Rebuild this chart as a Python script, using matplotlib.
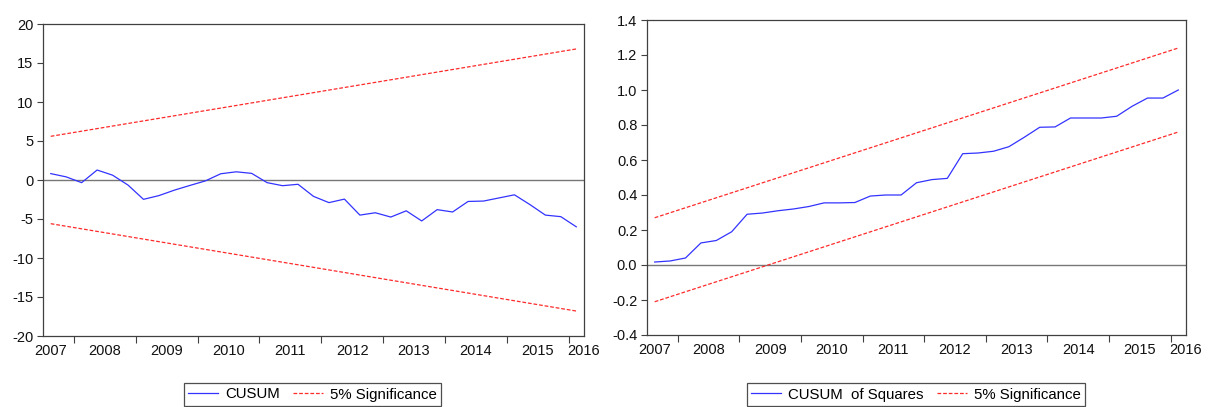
import numpy as np
import matplotlib
matplotlib.use('Agg')
import matplotlib.pyplot as plt

plt.rcParams['font.family'] = ['Liberation Sans', 'DejaVu Sans']
plt.rcParams['axes.unicode_minus'] = False

# quarterly observations 2007Q3 .. 2016Q1
cusum = [0.82, 0.4, -0.34, 1.28, 0.62, -0.65, -2.48, -2.0, -1.3, -0.7,
         -0.12, 0.8, 1.05, 0.85, -0.34, -0.73, -0.55, -2.1, -2.9, -2.45,
         -4.5, -4.2, -4.75, -3.95, -5.25, -3.8, -4.1, -2.75, -2.7, -2.3,
         -1.9, -3.15, -4.5, -4.7, -6.0]
cusum_bound_start = 5.6
cusum_bound_end = 16.8

cusumsq = [0.017, 0.023, 0.04, 0.126, 0.14, 0.19, 0.29, 0.297, 0.31, 0.32,
           0.334, 0.355, 0.355, 0.357, 0.394, 0.40, 0.40, 0.47, 0.488, 0.495,
           0.636, 0.64, 0.65, 0.676, 0.73, 0.787, 0.789, 0.84, 0.84, 0.84,
           0.85, 0.907, 0.954, 0.954, 1.0]
sq_upper = [0.27, 1.24]
sq_lower = [-0.21, 0.76]

year_labels = ['2007', '2008', '2009', '2010', '2011', '2012', '2013',
               '2014', '2015', '2016']

W, H = 1217, 407
fig = plt.figure(figsize=(W / 100, H / 100), dpi=100)
fig.patch.set_facecolor('white')

n = len(cusum)
x = np.arange(n)
blue = '#3333ff'
red = '#ff2a2a'

# year boundaries (first obs is Q3 2007) and label positions
bounds = np.arange(1.5, n - 1, 4)
label_pos = [0] + list(np.arange(3.5, n - 2, 4)) + [n - 0.5]


def style_axes(ax):
    ax.set_xlim(-0.5, n - 0.5)
    for s in ax.spines.values():
        s.set_color('#404040')
        s.set_linewidth(0.9)
    ax.set_xticks(bounds)
    ax.set_xticklabels([])
    ax.set_xticks(label_pos, minor=True)
    ax.set_xticklabels(year_labels, minor=True)
    ax.tick_params(axis='x', which='major', direction='out', length=5,
                   width=0.8, color='#404040')
    ax.tick_params(axis='x', which='minor', length=0, pad=6, labelsize=10.5,
                   labelcolor='#111111')
    ax.tick_params(axis='y', direction='out', length=4, width=0.8,
                   color='#404040', labelsize=10.5, labelcolor='#111111', pad=3)
    ax.axhline(0, color='#777777', lw=1.0, zorder=1)


# left panel: CUSUM
ax1 = fig.add_axes([43 / W, (H - 336) / H, 541 / W, 312 / H])
style_axes(ax1)
l1, = ax1.plot(x, cusum, color=blue, lw=0.9, label='CUSUM')
l2, = ax1.plot([0, n - 1], [cusum_bound_start, cusum_bound_end], color=red,
               lw=0.9, ls=(0, (3, 1.5)), label='5% Significance')
ax1.plot([0, n - 1], [-cusum_bound_start, -cusum_bound_end], color=red,
         lw=0.9, ls=(0, (3, 1.5)))
ax1.set_ylim(-20, 20)
ax1.set_yticks(np.arange(-20, 21, 5))

# right panel: CUSUM of squares
ax2 = fig.add_axes([647 / W, (H - 335) / H, 539 / W, 315 / H])
style_axes(ax2)
r1, = ax2.plot(x, cusumsq, color=blue, lw=0.9, label='CUSUM  of Squares')
r2, = ax2.plot([0, n - 1], sq_upper, color=red, lw=0.9, ls=(0, (3, 1.5)),
               label='5% Significance')
ax2.plot([0, n - 1], sq_lower, color=red, lw=0.9, ls=(0, (3, 1.5)))
ax2.set_ylim(-0.4, 1.4)
ax2.set_yticks(np.arange(-0.4, 1.41, 0.2))
ax2.set_yticklabels(['%.1f' % v for v in np.arange(-0.4, 1.41, 0.2)])

for handles, cx in [((l1, l2), 312.5), ((r1, r2), 916)]:
    leg = fig.legend(handles=handles, loc='center',
                     bbox_to_anchor=(cx / W, (H - 394.5) / H), ncol=2,
                     fontsize=10.8, frameon=True, fancybox=False,
                     edgecolor='#222222', handlelength=2.0, columnspacing=0.9,
                     handletextpad=0.45, borderpad=0.3, borderaxespad=0)
    leg.get_frame().set_linewidth(0.9)

fig.savefig('out.png', dpi=100, facecolor='white')
